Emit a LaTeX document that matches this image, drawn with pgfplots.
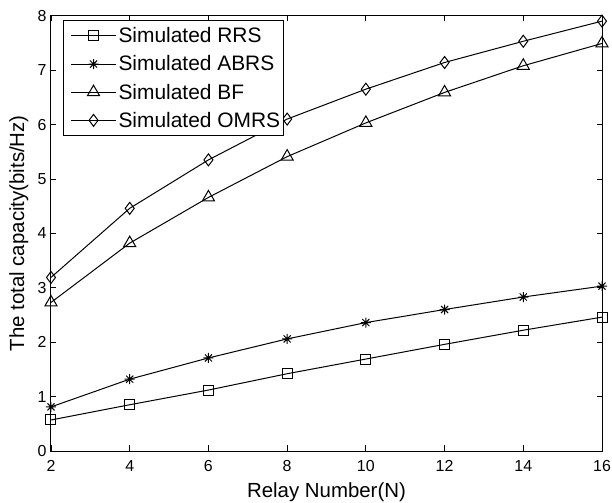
\documentclass[border=0pt]{standalone}
\usepackage{pgfplots}
\pgfplotsset{compat=1.18}
\usepackage{fontspec}
\setmainfont{Liberation Sans}

% eight-armed asterisk (plus and cross overlaid)
\pgfdeclareplotmark{mstar}{%
  \pgfpathmoveto{\pgfqpoint{-\pgfplotmarksize}{0pt}}%
  \pgfpathlineto{\pgfqpoint{\pgfplotmarksize}{0pt}}%
  \pgfpathmoveto{\pgfqpoint{0pt}{-\pgfplotmarksize}}%
  \pgfpathlineto{\pgfqpoint{0pt}{\pgfplotmarksize}}%
  \pgfpathmoveto{\pgfqpoint{-.707\pgfplotmarksize}{-.707\pgfplotmarksize}}%
  \pgfpathlineto{\pgfqpoint{.707\pgfplotmarksize}{.707\pgfplotmarksize}}%
  \pgfpathmoveto{\pgfqpoint{-.707\pgfplotmarksize}{.707\pgfplotmarksize}}%
  \pgfpathlineto{\pgfqpoint{.707\pgfplotmarksize}{-.707\pgfplotmarksize}}%
  \pgfusepathqstroke}

\begin{document}
\begin{tikzpicture}
\begin{axis}[
  scale only axis,
  width=551bp, height=435.3bp,
  xmin=2, xmax=16, ymin=0, ymax=8,
  xtick={2,4,...,16}, ytick={0,1,...,8},
  tick align=inside,
  major tick length=5.5bp,
  axis line style={line width=1bp},
  every tick/.style={black, line width=0.8bp},
  /pgf/number format/assume math mode=true,
  ticklabel style={font=\fontsize{16}{18}\selectfont},
  xticklabel style={anchor=base, yshift=-20bp},
  yticklabel style={anchor=east, xshift=-1bp},
  xlabel={Relay Number(N)},
  ylabel={The total capacity(bits/Hz)},
  label style={font=\fontsize{20.5}{24}\selectfont},
  xlabel style={at={(axis description cs:0.5,0)}, anchor=base, yshift=-46bp},
  ylabel style={at={(axis description cs:-0.0345,0.5)}, anchor=south},
  legend cell align=left,
  legend style={
    at={(axis description cs:0.0218,0.990)}, anchor=north west,
    font=\fontsize{21}{24}\selectfont,
    draw=black, line width=1bp,
    inner xsep=1bp, inner ysep=7bp,
    row sep=11.5bp,
    nodes={inner xsep=2bp, inner ysep=0bp},
  },
  legend image code/.code={%
    \path (0bp,0bp);
    \draw[mark repeat=2, mark phase=2]
      plot coordinates {(6bp,0bp) (28.5bp,0bp) (51bp,0bp)};},
  every axis plot/.append style={black, line width=1bp, mark options={solid, fill=white, line width=1bp}},
]
\addplot[mark=square, mark size=5bp] coordinates {
  (2,0.57) (4,0.85) (6,1.12) (8,1.42) (10,1.69) (12,1.96) (14,2.22) (16,2.46)};
\addlegendentry{Simulated RRS}
\addplot[mark=mstar, mark size=5bp] coordinates {
  (2,0.81) (4,1.32) (6,1.71) (8,2.06) (10,2.36) (12,2.60) (14,2.83) (16,3.03)};
\addlegendentry{Simulated ABRS}
\addplot[mark=triangle, mark size=7bp] coordinates {
  (2,2.73) (4,3.82) (6,4.66) (8,5.41) (10,6.03) (12,6.59) (14,7.08) (16,7.49)};
\addlegendentry{Simulated BF}
\addplot[mark=diamond, mark size=6bp] coordinates {
  (2,3.19) (4,4.46) (6,5.35) (8,6.10) (10,6.65) (12,7.14) (14,7.53) (16,7.90)};
\addlegendentry{Simulated OMRS}
\end{axis}
\pgfresetboundingbox
\path[use as bounding box] (-51bp,-52bp) rectangle (561bp,451bp);
\end{tikzpicture}
\end{document}
